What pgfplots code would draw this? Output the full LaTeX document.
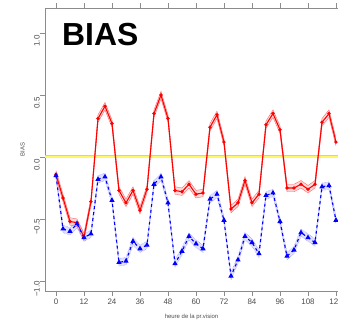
\documentclass[border=0pt]{standalone}
\usepackage{pgfplots}
\pgfplotsset{compat=1.18}
\usepackage{pgfplotstable}
\usepgfplotslibrary{fillbetween}
\usepackage{fontspec}
\setmainfont{Liberation Sans}

\pgfplotstableread{
x y lo hi
0 -0.14 -0.17 -0.11
3 -0.33 -0.36 -0.30
6 -0.52 -0.55 -0.49
9 -0.53 -0.56 -0.50
12 -0.645 -0.675 -0.615
15 -0.36 -0.39 -0.33
18 0.31 0.28 0.34
21 0.41 0.38 0.44
24 0.27 0.24 0.30
27 -0.27 -0.30 -0.24
30 -0.37 -0.40 -0.34
33 -0.27 -0.30 -0.24
36 -0.43 -0.46 -0.40
39 -0.26 -0.29 -0.23
42 0.35 0.32 0.38
45 0.50 0.47 0.53
48 0.31 0.28 0.34
51 -0.27 -0.30 -0.24
54 -0.28 -0.31 -0.25
57 -0.22 -0.25 -0.19
60 -0.30 -0.33 -0.27
63 -0.29 -0.32 -0.26
66 0.24 0.21 0.27
69 0.34 0.31 0.37
72 0.12 0.09 0.15
75 -0.42 -0.45 -0.39
78 -0.37 -0.40 -0.34
81 -0.19 -0.22 -0.16
84 -0.37 -0.40 -0.34
87 -0.30 -0.33 -0.27
90 0.26 0.23 0.29
93 0.35 0.32 0.38
96 0.22 0.19 0.25
99 -0.25 -0.28 -0.22
102 -0.25 -0.28 -0.22
105 -0.22 -0.25 -0.19
108 -0.26 -0.29 -0.23
111 -0.22 -0.25 -0.19
114 0.28 0.25 0.31
117 0.35 0.32 0.38
120 0.12 0.09 0.15
}\redtab

\pgfplotstableread{
x y lo hi
0 -0.15 -0.18 -0.12
3 -0.58 -0.61 -0.55
6 -0.60 -0.63 -0.57
9 -0.54 -0.57 -0.51
12 -0.65 -0.68 -0.62
15 -0.62 -0.65 -0.59
18 -0.18 -0.21 -0.15
21 -0.16 -0.19 -0.13
24 -0.35 -0.38 -0.32
27 -0.85 -0.88 -0.82
30 -0.84 -0.87 -0.81
33 -0.68 -0.71 -0.65
36 -0.74 -0.77 -0.71
39 -0.71 -0.74 -0.68
42 -0.22 -0.25 -0.19
45 -0.16 -0.19 -0.13
48 -0.37 -0.40 -0.34
51 -0.86 -0.89 -0.83
54 -0.76 -0.79 -0.73
57 -0.64 -0.67 -0.61
60 -0.70 -0.73 -0.67
63 -0.74 -0.77 -0.71
66 -0.34 -0.37 -0.31
69 -0.30 -0.33 -0.27
72 -0.51 -0.54 -0.48
75 -0.96 -0.99 -0.93
78 -0.83 -0.86 -0.80
81 -0.64 -0.67 -0.61
84 -0.69 -0.72 -0.66
87 -0.78 -0.81 -0.75
90 -0.31 -0.34 -0.28
93 -0.29 -0.32 -0.26
96 -0.52 -0.55 -0.49
99 -0.80 -0.83 -0.77
102 -0.75 -0.78 -0.72
105 -0.61 -0.64 -0.58
108 -0.65 -0.68 -0.62
111 -0.69 -0.72 -0.66
114 -0.24 -0.27 -0.21
117 -0.23 -0.26 -0.20
120 -0.51 -0.54 -0.48
}\bluetab

\begin{document}
\begin{tikzpicture}
\begin{axis}[
  scale only axis,
  width=293bp, height=283bp,
  xmin=-4.71, xmax=120.86,
  ymin=-1.081, ymax=1.202,
  axis x line*=box, axis y line*=left,
  axis line style={black!45, line width=0.8pt},
  tick style={black!45, line width=0.8pt},
  tick align=outside,
  major tick length=5bp,
  xtick={0,12,...,120},
  xticklabel pos=bottom,
  ytick={-1,-0.5,0,0.5,1},
  yticklabels={−1.0,−0.5,0.0,0.5,1.0},
  /pgf/number format/assume math mode=true,
  ticklabel style={font=\fontsize{8}{9}\selectfont, text=black!70},
  yticklabel style={rotate=90, anchor=south, inner sep=0pt, xshift=-8bp},
  xticklabel style={anchor=north, inner sep=0pt, yshift=-3bp},
  xlabel={heure de la pr.vision},
  ylabel={BIAS},
  label style={font=\fontsize{6}{7}\selectfont, text=black!70},
  xlabel style={yshift=-6bp},
  ylabel style={yshift=6bp},
  clip=true,
]
% zero reference lines
\addplot[black!20, line width=1.3pt] coordinates {(-10,0.013) (130,0.013)};
\addplot[yellow!60!white, line width=1.3pt] coordinates {(-10,0) (130,0)};

% red band
\addplot[name path=rlo, red!60, line width=0.4pt] table[x=x,y=lo] {\redtab};
\addplot[name path=rhi, red!60, line width=0.4pt] table[x=x,y=hi] {\redtab};
\addplot[red!18, opacity=0.8] fill between[of=rlo and rhi];

% blue band
\addplot[name path=blo, blue!45, line width=0.5pt, densely dotted] table[x=x,y=lo] {\bluetab};
\addplot[name path=bhi, blue!45, line width=0.5pt, densely dotted] table[x=x,y=hi] {\bluetab};
\addplot[blue!15, opacity=0.8] fill between[of=blo and bhi];

% main series
\addplot[red, line width=1.1pt, mark=*, mark size=1.1pt, mark options={solid, fill=red}] table[x=x,y=y] {\redtab};
\addplot[blue, line width=1.1pt, dashed, mark=triangle*, mark size=2pt, mark options={solid, fill=blue}] table[x=x,y=y] {\bluetab};

\node[anchor=base west, inner sep=0pt, font=\fontsize{32}{32}\selectfont\bfseries] at (rel axis cs:0.058,0.869) {BIAS};
\end{axis}
\pgfresetboundingbox
\path ([shift={(-45bp,-32bp)}]current axis.south west) rectangle ([shift={(0bp,8bp)}]current axis.north east);
\end{tikzpicture}
\end{document}
